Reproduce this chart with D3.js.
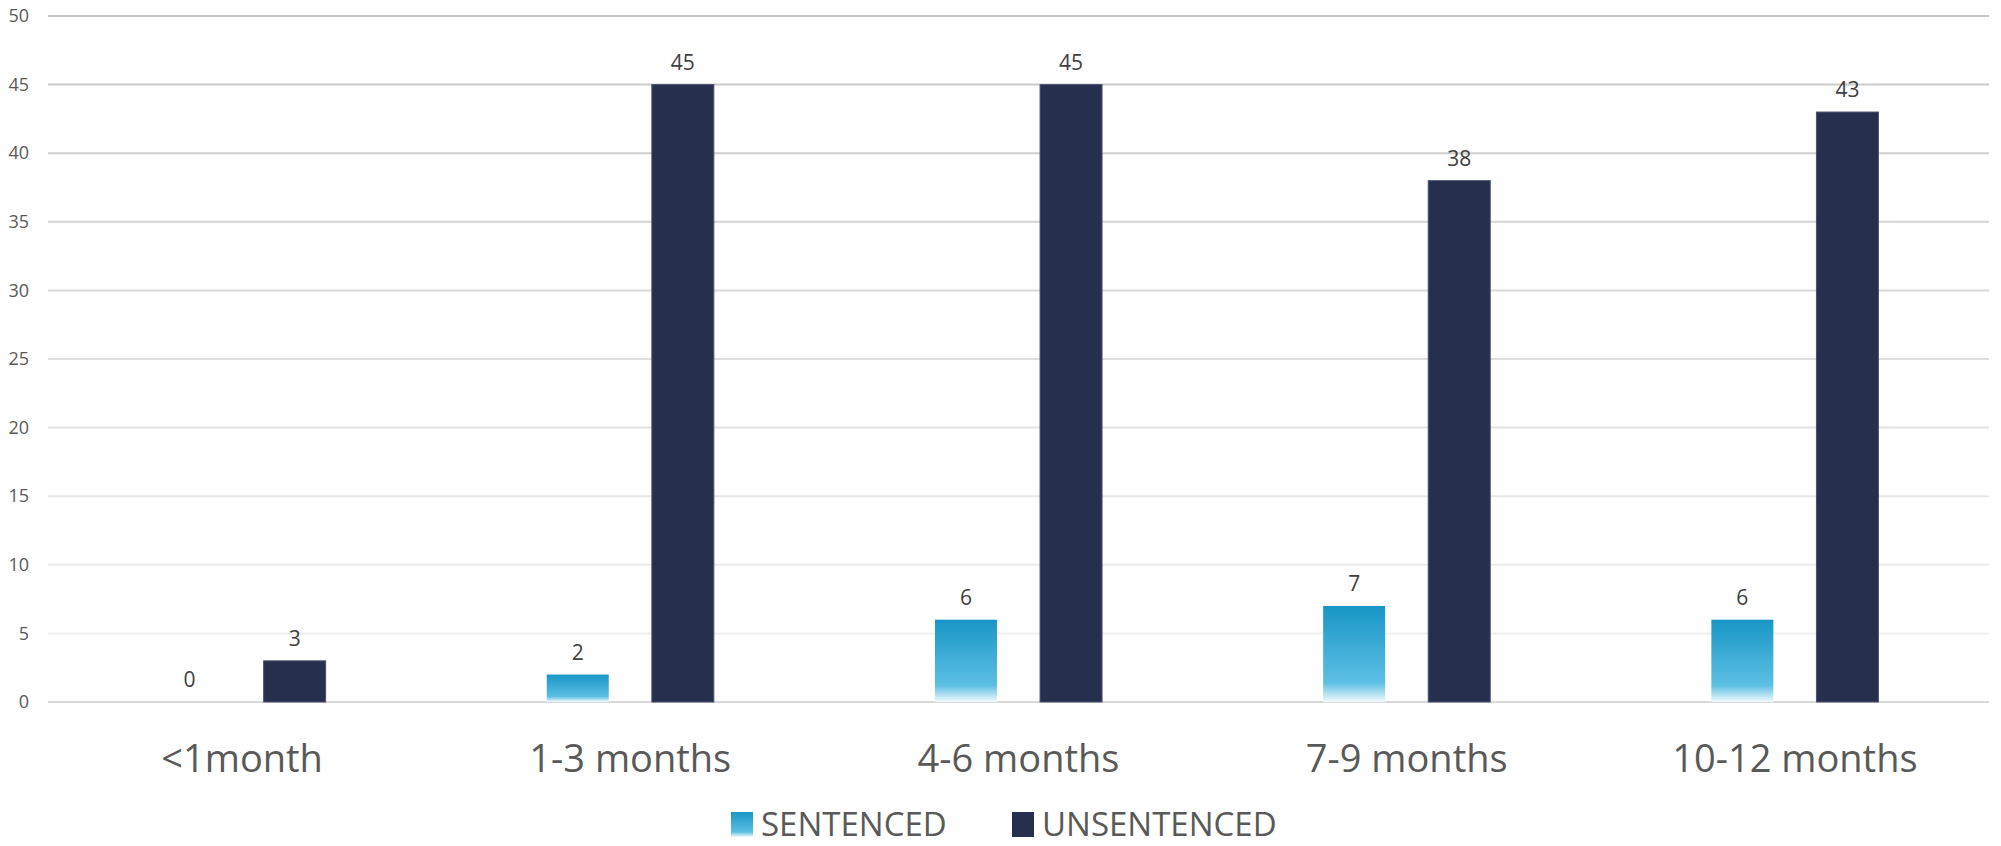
<!DOCTYPE html>
<html>
<head>
<meta charset="utf-8">
<script src="https://cdn.jsdelivr.net/npm/d3@7"></script>
<style>
  body { margin: 0; background: #fff; }
  text { font-family: "Open Sans", sans-serif; }
</style>
</head>
<body>
<div id="chart"></div>
<script>
// values
const categories = ['<1month', '1-3 months', '4-6 months', '7-9 months', '10-12 months'];
const seriesNames = ['SENTENCED', 'UNSENTENCED'];
const sentenced = [0, 2, 6, 7, 6];
const unsentenced = [3, 45, 45, 38, 43];
const yTicks = [0, 5, 10, 15, 20, 25, 30, 35, 40, 45, 50];

const width = 2001, height = 846;
const plotLeft = 48, plotRight = 1989, plotTop = 16, zeroY = 702;

const svg = d3.select('#chart').append('svg')
  .attr('width', width)
  .attr('height', height);

const defs = svg.append('defs');
const grad = defs.append('linearGradient')
  .attr('id', 'sentGrad')
  .attr('x1', 0).attr('y1', 0).attr('x2', 0).attr('y2', 1);
grad.append('stop').attr('offset', '0%').attr('stop-color', '#1996c6');
grad.append('stop').attr('offset', '80%').attr('stop-color', '#5dbfe4');
grad.append('stop').attr('offset', '100%').attr('stop-color', '#f2fafd');

const x0 = d3.scaleBand()
  .domain(categories)
  .range([plotLeft, plotRight]);

const x1 = d3.scaleBand()
  .domain(seriesNames)
  .range([x0.bandwidth() * 0.2848, x0.bandwidth() * 0.7152])
  .paddingInner(0.41);

const y = d3.scaleLinear()
  .domain([0, 50])
  .range([zeroY, plotTop]);

// gridlines get lighter toward the bottom
const gridColor = d3.scaleLinear().domain([5, 50]).range(['#f0f0f0', '#c6c6c6']);

svg.append('g').selectAll('line')
  .data(yTicks)
  .enter()
  .append('line')
  .attr('x1', plotLeft).attr('x2', plotRight)
  .attr('y1', d => y(d)).attr('y2', d => y(d))
  .attr('stroke', d => d === 0 ? '#d9d9d9' : gridColor(d))
  .attr('stroke-width', 2);

// y axis labels
const yAxis = svg.append('g')
  .attr('transform', `translate(${plotLeft - 19},0)`)
  .call(d3.axisLeft(y).tickValues(yTicks).tickSize(0).tickPadding(0));
yAxis.select('.domain').remove();
yAxis.selectAll('text')
  .attr('font-family', '"Open Sans", sans-serif')
  .attr('font-size', 18)
  .attr('fill', '#595959');

const rows = categories.map((c, i) => ({
  cat: c,
  vals: [
    { key: 'SENTENCED', value: sentenced[i] },
    { key: 'UNSENTENCED', value: unsentenced[i] }
  ]
}));

const groups = svg.append('g').selectAll('g')
  .data(rows)
  .enter()
  .append('g')
  .attr('transform', d => `translate(${x0(d.cat)},0)`);

groups.selectAll('rect')
  .data(d => d.vals)
  .enter()
  .append('rect')
  .attr('x', d => x1(d.key))
  .attr('width', x1.bandwidth())
  .attr('y', d => y(d.value))
  .attr('height', d => zeroY - y(d.value))
  .attr('fill', d => d.key === 'SENTENCED' ? 'url(#sentGrad)' : '#262f4d')
  .attr('stroke', d => d.key === 'SENTENCED' ? 'none' : '#4a5270')
  .attr('stroke-width', d => d.value > 0 ? 1 : 0);

groups.selectAll('text.val')
  .data(d => d.vals)
  .enter()
  .append('text')
  .attr('class', 'val')
  .attr('x', d => x1(d.key) + x1.bandwidth() / 2)
  .attr('y', d => y(d.value) - 15)
  .attr('text-anchor', 'middle')
  .attr('font-size', 21)
  .attr('fill', '#404040')
  .text(d => d.value);

// category labels
svg.append('g').selectAll('text')
  .data(categories)
  .enter()
  .append('text')
  .attr('x', d => x0(d) + x0.bandwidth() / 2)
  .attr('y', zeroY + 70)
  .attr('text-anchor', 'middle')
  .attr('font-size', 38)
  .attr('fill', '#595959')
  .text(d => d);

// legend
const legendX = [731, 1012];
const legend = svg.append('g').selectAll('g')
  .data(seriesNames)
  .enter()
  .append('g')
  .attr('transform', (d, i) => `translate(${legendX[i]},812)`);

legend.append('rect')
  .attr('width', 22)
  .attr('height', 25)
  .attr('fill', d => d === 'SENTENCED' ? 'url(#sentGrad)' : '#262f4d');

legend.append('text')
  .attr('x', 30)
  .attr('y', 24)
  .attr('font-size', 33)
  .attr('fill', '#595959')
  .text(d => d);
</script>
</body>
</html>
